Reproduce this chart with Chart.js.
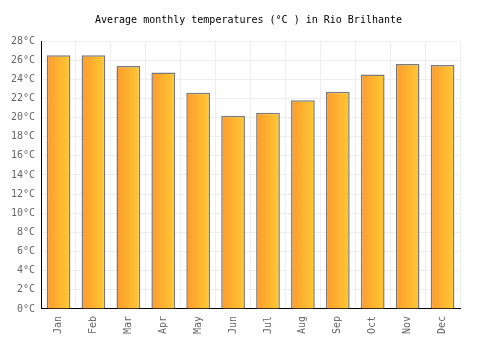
<!DOCTYPE html>
<html><head><meta charset="utf-8">
<script src="https://cdn.jsdelivr.net/npm/chart.js@4/dist/chart.umd.min.js"></script>
<style>html,body{margin:0;padding:0;background:#fff}#w{width:500px;height:350px}</style>
</head><body><div id="w"><canvas id="c" width="500" height="350"></canvas></div>
<script>
const months = ["Jan","Feb","Mar","Apr","May","Jun","Jul","Aug","Sep","Oct","Nov","Dec"];
const temps = [26.5,26.5,25.4,24.7,22.6,20.2,20.5,21.8,22.7,24.5,25.6,25.5];
const yTicks = [0,2,4,6,8,10,12,14,16,18,20,22,24,26,28];
const FONT = "'DejaVu Sans Mono', monospace";
const BAR_PCT = 0.68;

function barFill(ctx) {
  const chart = ctx.chart;
  const xs = chart.scales && chart.scales.x;
  if (!xs || ctx.dataIndex === undefined) return '#ffb030';
  const cx = xs.getPixelForValue(ctx.dataIndex);
  const w = xs.width / months.length * BAR_PCT;
  if (!isFinite(cx) || !isFinite(w) || w <= 0) return '#ffb030';
  const g = chart.ctx.createLinearGradient(cx - w/2, 0, cx + w/2, 0);
  g.addColorStop(0, '#ff9a2e');
  g.addColorStop(1, '#ffca33');
  return g;
}

const chart = new Chart(document.getElementById('c'), {
  type: 'bar',
  data: { labels: months, datasets: [{ data: temps, backgroundColor: barFill, borderColor: '#7a7a7a', borderWidth: 1.5, categoryPercentage: 1, barPercentage: BAR_PCT }] },
  options: {
    responsive: false, animation: false,
    layout: { padding: { left: 5, right: 8, top: 8, bottom: 9 } },
    plugins: {
      legend: { display: false }, tooltip: { enabled: false },
      title: { display: true, text: 'Average monthly temperatures (°C ) in Rio Brilhante', color: '#000', font: { family: FONT, size: 10, weight: 'normal' }, padding: { top: 6, bottom: 15 } }
    },
    scales: {
      x: {
        grid: { color: '#eeeeee', offset: true, drawTicks: false },
        border: { color: '#000', width: 1 },
        ticks: { color: '#666', font: { family: FONT, size: 10 }, maxRotation: 90, minRotation: 90, padding: 7 }
      },
      y: {
        min: 0, max: 28,
        afterBuildTicks: (s) => { s.ticks = yTicks.map(v => ({ value: v })); },
        grid: { color: '#eeeeee', drawTicks: false },
        border: { color: '#000', width: 1 },
        ticks: { color: '#666', font: { family: FONT, size: 10 }, padding: 6, callback: v => v + '°C' }
      },
      yRight: {
        position: 'right', display: true, min: 0, max: 28,
        grid: { display: false, drawTicks: false }, border: { display: false },
        ticks: { display: false },
        afterFit: (s) => { s.width = 32; }
      }
    }
  }
});
chart.update();
</script></body></html>
